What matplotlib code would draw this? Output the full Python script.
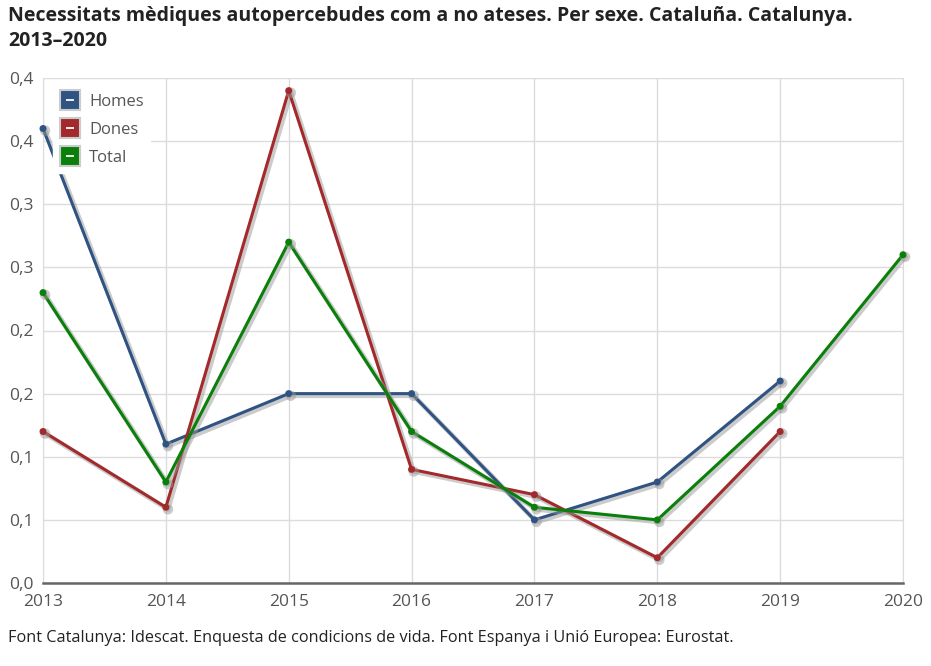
import matplotlib.pyplot as plt
import matplotlib.patheffects as pe
from matplotlib.lines import Line2D
from matplotlib.legend_handler import HandlerTuple

plt.rcParams["font.family"] = ["Open Sans", "DejaVu Sans"]

years = [2013, 2014, 2015, 2016, 2017, 2018, 2019, 2020]
homes = [0.36, 0.11, 0.15, 0.15, 0.05, 0.08, 0.16]
dones = [0.12, 0.06, 0.39, 0.09, 0.07, 0.02, 0.12]
total = [0.23, 0.08, 0.27, 0.12, 0.06, 0.05, 0.14, 0.26]
yticks = [0, 0.05, 0.1, 0.15, 0.2, 0.25, 0.3, 0.35, 0.4]
ytick_labels = ["0,0", "0,1", "0,1", "0,2", "0,2", "0,3", "0,3", "0,4", "0,4"]

BLUE = "#2f5382"
RED = "#a3292b"
GREEN = "#0a7f0a"
TXT = "#555555"

fig = plt.figure(figsize=(9.31, 6.66), dpi=100)
ax = fig.add_axes([43 / 931, 83 / 666, 860 / 931, 505 / 666])

shadow = [pe.SimpleLineShadow(offset=(1.5, -1.5), shadow_color="#999999", alpha=0.5, linewidth=3.5), pe.Normal()]
series = [("Homes", homes, BLUE), ("Dones", dones, RED), ("Total", total, GREEN)]
for name, vals, col in series:
    ax.plot(years[:len(vals)], vals, color=col, lw=2.2, marker="o", ms=4,
            path_effects=shadow, zorder=3, clip_on=False)

ax.set_xlim(2013, 2020)
ax.set_ylim(0, 0.4)
ax.set_xticks(years)
ax.set_xticklabels([str(y) for y in years])
ax.set_yticks(yticks)
ax.set_yticklabels(ytick_labels)
ax.tick_params(axis="both", length=0, labelsize=12.5, colors=TXT)
ax.tick_params(axis="x", pad=8)
ax.tick_params(axis="y", pad=7)
ax.grid(True, color="#dcdcdc", lw=1)
ax.set_axisbelow(True)
ax.spines["top"].set_visible(False)
ax.spines["left"].set_color("#dcdcdc")
ax.spines["right"].set_color("#dcdcdc")
ax.spines["bottom"].set_color("#666666")
ax.spines["bottom"].set_linewidth(1.8)

handles = []
for name, vals, col in series:
    sq = Line2D([], [], ls="none", marker="s", ms=14, mfc=col, mec="#cccccc", mew=1.5)
    dash = Line2D([], [], ls="none", marker="_", ms=6, mec="white", mew=1.3)
    handles.append((sq, dash))
leg = ax.legend(handles, [s[0] for s in series], handler_map={tuple: HandlerTuple(ndivide=1, pad=0)},
                loc="upper left", bbox_to_anchor=(0.002, 0.998), frameon=True, fancybox=False,
                edgecolor="white", facecolor="white", framealpha=1, fontsize=12,
                handlelength=1.2, handletextpad=0.55, labelspacing=0.72, borderpad=0.4)
for t in leg.get_texts():
    t.set_color(TXT)
leg.set_zorder(5)

fig.text(8 / 931, 1 - 6 / 666, "Necessitats mèdiques autopercebudes com a no ateses. Per sexe. Cataluña. Catalunya.\n2013–2020",
         fontsize=14, fontweight="bold", color="#222222", va="top", linespacing=1.35)
fig.text(8 / 931, 1 - 638 / 666, "Font Catalunya: Idescat. Enquesta de condicions de vida. Font Espanya i Unió Europea: Eurostat.",
         fontsize=11.7, color="#222222", va="center")

fig.savefig("out.png", dpi=100)
